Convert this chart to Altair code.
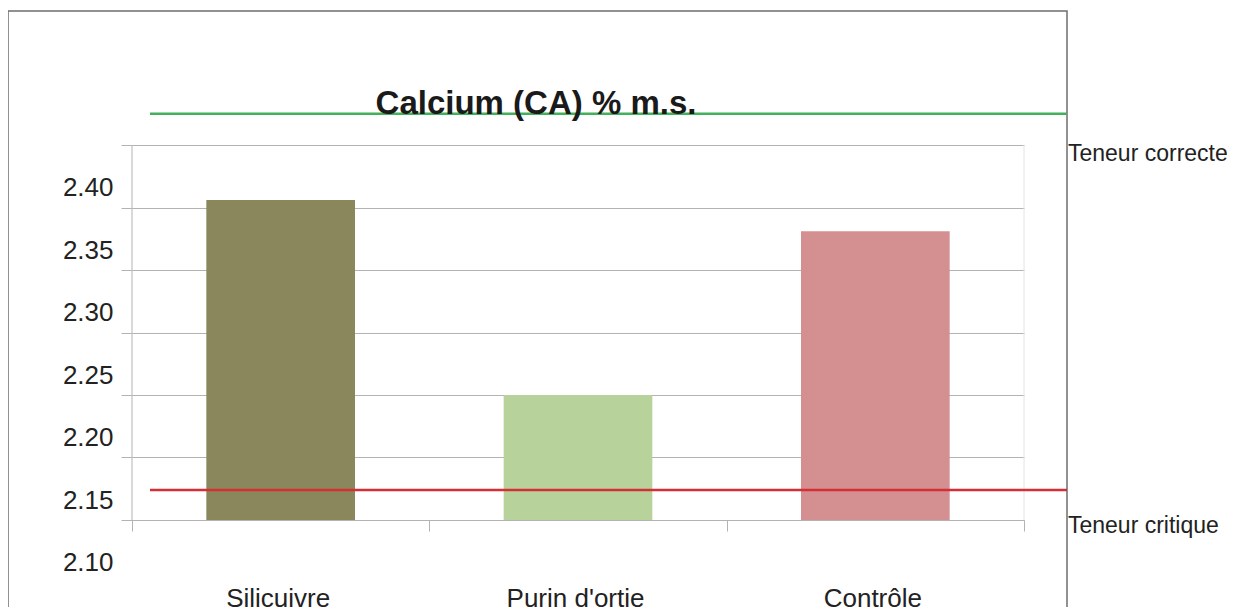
import altair as alt
import pandas as pd

# ---- data ----
categories = ["Silicuivre", "Purin d'ortie", "Contrôle"]
values = [2.406, 2.25, 2.381]
bar_colors = ["#8b875c", "#b8d29c", "#d48f90"]

ref_labels = ["Teneur correcte", "Teneur critique"]
ref_values = [2.475, 2.174]
ref_colors = ["#43b05c", "#d42f35"]

tick_values = [2.10, 2.15, 2.20, 2.25, 2.30, 2.35, 2.40, 2.45]
axis_floor = 2.15
axis_top = 2.45
title_text = ["Calcium (CA) % m.s."]

FONT = "Liberation Sans"
GRID = "#b3b3b3"
TXT = "#222222"
W = 892
H = 437.5

bars_df = pd.DataFrame({"cat": categories, "value": values, "color": bar_colors})
ref_df = pd.DataFrame({"label": ref_labels, "value": ref_values, "color": ref_colors})
span_df = pd.DataFrame({"lo": [axis_floor], "hi": [axis_top]})
title_df = pd.DataFrame({"t": title_text})

y_scale = alt.Scale(domain=[2.10, 2.45], nice=False, zero=False)
y_axis = alt.Axis(
    title=None,
    values=tick_values,
    grid=True,
    gridColor=GRID,
    gridOpacity={"condition": {"test": "datum.value < 2.125", "value": 0}, "value": 1},
    tickOpacity={"condition": {"test": "datum.value < 2.125", "value": 0}, "value": 1},
    tickColor=GRID,
    tickSize=11,
    domain=False,
    labelExpr="datum.value > 2.425 ? '' : format(datum.value, '.2f')",
    labelOffset=-20,
    labelPadding=8,
    labelFont=FONT,
    labelFontSize=26,
    labelColor=TXT,
)


def ye(field):
    return alt.Y(field, scale=y_scale, axis=y_axis)


x_enc = alt.X(
    "cat:N",
    sort=categories,
    scale=alt.Scale(paddingInner=0, paddingOuter=0),
    axis=alt.Axis(
        title=None,
        offset=-62.5,
        domainColor=GRID,
        tickColor=GRID,
        tickSize=11,
        tickBand="extent",
        labelFont=FONT,
        labelFontSize=26,
        labelColor=TXT,
        labelPadding=54,
        labelOffset=-3,
        labelAngle=0,
        grid=False,
    ),
)

frame = alt.Chart(span_df).mark_rect(fillOpacity=0, stroke="#6e6e6e", strokeWidth=1.5).encode(
    x=alt.value(-124), x2=alt.value(935), y=alt.value(-134), y2=alt.value(480)
)

left_line = alt.Chart(span_df).mark_rule(color=GRID, strokeWidth=1).encode(
    x=alt.value(0), y=ye("lo:Q"), y2="hi:Q"
)
right_line = alt.Chart(span_df).mark_rule(color="#e4e4e4", strokeWidth=1).encode(
    x=alt.value(W), y=ye("lo:Q"), y2="hi:Q"
)

bars = alt.Chart(bars_df).mark_bar(width=alt.RelativeBandSize(0.5)).encode(
    x=x_enc,
    y=ye("value:Q"),
    y2=alt.datum(axis_floor),
    color=alt.Color("color:N", scale=None),
)

ref_rules = alt.Chart(ref_df).mark_rule(strokeWidth=2.5).encode(
    x=alt.value(18),
    x2=alt.value(935),
    y=ye("value:Q"),
    color=alt.Color("color:N", scale=None),
)

txt_correct = alt.Chart(ref_df).transform_filter(
    alt.datum.label == "Teneur correcte"
).mark_text(align="left", baseline="middle", font=FONT, fontSize=23, color=TXT, dy=40).encode(
    x=alt.value(936), y=ye("value:Q"), text="label:N"
)
txt_critical = alt.Chart(ref_df).transform_filter(
    alt.datum.label == "Teneur critique"
).mark_text(align="left", baseline="middle", font=FONT, fontSize=23, color=TXT, dy=36).encode(
    x=alt.value(936), y=ye("value:Q"), text="label:N"
)

title = alt.Chart(title_df).mark_text(
    align="center", baseline="alphabetic", font=FONT, fontSize=33, fontWeight="bold", color="#1a1a1a"
).encode(x=alt.value(404), y=alt.value(-31), text="t:N")

chart = (
    alt.layer(frame, left_line, right_line, bars, ref_rules, txt_correct, txt_critical, title)
    .properties(
        width=W,
        height=H,
        autosize=alt.AutoSizeParams(type="none"),
        padding={"left": 124, "top": 137, "right": 203, "bottom": 24},
        background="white",
    )
    .configure_view(stroke=None)
)

chart.save("out.html", embed_options={"renderer": "svg", "actions": False})
